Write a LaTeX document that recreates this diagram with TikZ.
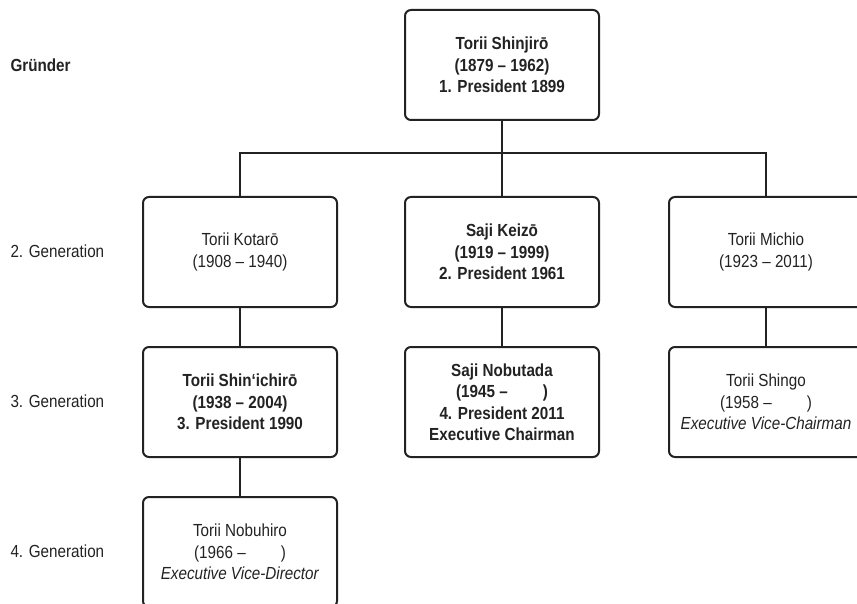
\documentclass[tikz,border=0pt]{standalone}
\usepackage{fontspec}
\setmainfont{Liberation Sans}[FakeStretch=0.87]
\usepackage{tikz}
\usetikzlibrary{positioning}
\definecolor{inkgray}{HTML}{222222}

\begin{document}
\begin{tikzpicture}[
    x=1pt, y=-1pt,
    person/.style={draw=inkgray, line width=2pt, rounded corners=6pt, minimum width=194pt, minimum height=110pt, align=center, text=inkgray, font=\fontsize{17.5}{21.5}\selectfont},
    head/.style={person, font=\fontsize{17.5}{21.5}\selectfont\bfseries},
    gen/.style={anchor=west, text=inkgray, font=\fontsize{17.5}{20}\selectfont},
    link/.style={draw=inkgray, line width=2pt}
]
    \useasboundingbox (0,0) rectangle (857,604);
    % Generation labels
    \node[gen, font=\fontsize{17.5}{20}\selectfont\bfseries] (g1) at (7,65) {Gründer};
    \node[gen] (g2) at (7,251) {2. Generation};
    \node[gen] (g3) at (7,401) {3. Generation};
    \node[gen] (g4) at (7,551) {4. Generation};
    % Founder
    \node[head] (shinjiro) at (502,65) {Torii Shinjirō\\(1879 – 1962)\\1. President 1899};
    % 2. Generation
    \node[person] (kotaro) at (240,252) {Torii Kotarō\\(1908 – 1940)};
    \node[head] (keizo) at (502,252) {Saji Keizō\\(1919 – 1999)\\2. President 1961};
    \node[person] (michio) at (766,252) {Torii Michio\\(1923 – 2011)};
    % 3. Generation
    \node[head] (shinichiro) at (240,402) {Torii Shin‘ichirō\\(1938 – 2004)\\3. President 1990};
    \node[head] (nobutada) at (502,402) {Saji Nobutada\\(1945 –\hspace{2em})\\4. President 2011\\Executive Chairman};
    \node[person] (shingo) at (766,402) {Torii Shingo\\(1958 –\hspace{2em})\\\textit{Executive Vice-Chairman}};
    % 4. Generation
    \node[person] (nobuhiro) at (240,552) {Torii Nobuhiro\\(1966 –\hspace{2em})\\\textit{Executive Vice-Director}};
    % Lines
    \coordinate (bar) at (502,153);
    \draw[link] (shinjiro.south) -- (bar);
    \draw[link] (kotaro.north) |- (bar) -| (michio.north);
    \draw[link] (bar) -- (keizo.north);
    \foreach \a/\b in {kotaro/shinichiro, keizo/nobutada, michio/shingo, shinichiro/nobuhiro} {
        \draw[link] (\a.south) -- (\b.north);
    }
\end{tikzpicture}
\end{document}
